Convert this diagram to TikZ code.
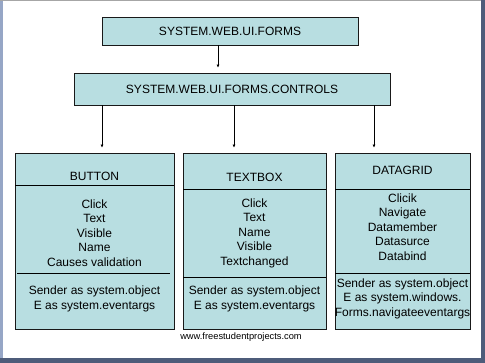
\documentclass[tikz,border=0pt]{standalone}
\usepackage{fontspec}
\setmainfont{Liberation Sans}
\usepackage{tikz}
\usetikzlibrary{arrows.meta}
\definecolor{boxfill}{RGB}{184,222,225}
\definecolor{frameL}{RGB}{150,166,198}
\definecolor{frameD}{RGB}{78,92,122}

\tikzset{
  box/.style={draw=black!90, fill=boxfill, line width=0.8pt, inner sep=0pt},
  txt/.style={align=center, inner sep=0pt, font=\fontsize{12}{14.5}\selectfont},
  arrow/.style={-{Latex[length=3pt,width=3pt]}, line width=0.8pt, shorten >=5pt}
}

\begin{document}
\begin{tikzpicture}[x=1pt,y=-1pt]
            % Fixed Bounding Box (screen frame)
            \useasboundingbox (0,0) rectangle (485,363);
            \fill[white] (0,0) rectangle (485,363);
            \fill[frameL] (0,0) rectangle (3,363);
            \fill[black!35] (0,0) rectangle (485,1);
            \fill[frameD] (481,0) rectangle (485,363);
            \fill[frameD] (0,358) rectangle (485,363);

            % Namespace boxes
            \node[box, minimum width=256, minimum height=28] (forms) at (230,31) {};
            \node[txt] (formsT) at (forms) {SYSTEM.WEB.UI.FORMS};
            \node[box, minimum width=316, minimum height=32] (controls) at (232,89) {};
            \node[txt] (controlsT) at (controls) {SYSTEM.WEB.UI.FORMS.CONTROLS};

            % Class boxes
            \node[box, minimum width=159, minimum height=176] (button) at (94.5,241) {};
            \node[box, minimum width=143, minimum height=176] (textbox) at (254.5,241) {};
            \node[box, minimum width=135, minimum height=176] (datagrid) at (402.5,241) {};

            % Dividers
            \draw[line width=0.8pt] (15,185) -- (174,185);
            \draw[line width=0.8pt] (17,273) -- (170,273);
            \draw[line width=0.8pt] (183,189) -- (326,189);
            \draw[line width=0.8pt] (183,277) -- (326,277);
            \draw[line width=0.8pt] (335,189) -- (470,189);
            \draw[line width=0.8pt] (335,273) -- (470,273);

            % Texts
            \node[txt] (buttonT) at (94.5,176) {BUTTON};
            \node[txt] (buttonM) at (94.5,233) {Click\\Text\\Visible\\Name\\Causes validation};
            \node[txt] (buttonE) at (94.5,299) {Sender as system.object\\E as system.eventargs};
            \node[txt] (textboxT) at (254.5,177) {TEXTBOX};
            \node[txt] (textboxM) at (254.5,233) {Click\\Text\\Name\\Visible\\Textchanged};
            \node[txt] (textboxE) at (254.5,299) {Sender as system.object\\E as system.eventargs};
            \node[txt] (datagridT) at (402.5,170) {DATAGRID};
            \node[txt] (datagridM) at (402.5,227) {Clicik\\Navigate\\Datamember\\Datasurce\\Databind};
            \node[txt] (datagridE) at (402.5,298.5) {Sender as system.object\\E as system.windows.\\Forms.navigateeventargs};

            % Arrows
            \coordinate (a0) at (218,0);
            \coordinate (a1) at (102,0);
            \coordinate (a2) at (234,0);
            \coordinate (a3) at (374,0);
            \draw[arrow] (forms.south -| a0) -- (controls.north -| a0);
            \draw[arrow] (controls.south -| a1) -- (button.north -| a1);
            \draw[arrow] (controls.south -| a2) -- (textbox.north -| a2);
            \draw[arrow] (controls.south -| a3) -- (datagrid.north -| a3);

            \node[inner sep=0pt, font=\fontsize{9.3}{11}\selectfont] (site) at (241,337) {www.freestudentprojects.com};
\end{tikzpicture}
\end{document}
